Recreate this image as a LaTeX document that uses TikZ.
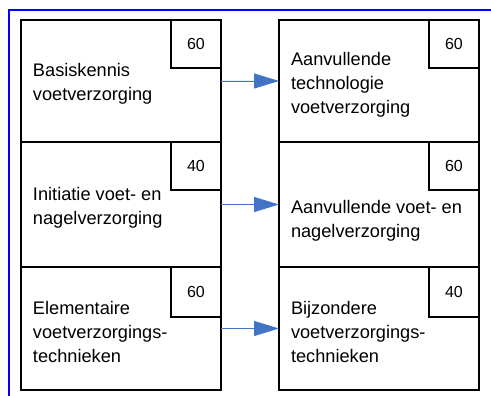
\documentclass[tikz,border=0pt]{standalone}
\usepackage{fontspec}
\setmainfont{Liberation Sans}
\usetikzlibrary{arrows.meta, positioning}

\definecolor{arrowblue}{RGB}{68,114,196}

\begin{document}
\begin{tikzpicture}[
    x=1pt, y=-1pt,
    every node/.style={inner sep=0pt, outer sep=0pt},
    box/.style={rectangle, draw, line width=1.6pt, minimum width=200pt},
    numbox/.style={rectangle, draw, line width=1.6pt, minimum width=50pt, minimum height=48pt, fill=white, font=\fontsize{16}{18}\selectfont},
    txt/.style={align=left, font=\fontsize{18.2}{24}\selectfont, anchor=west},
    arrow/.style={-{Triangle[length=25pt, width=15pt]}, line width=0.8pt, draw=arrowblue, fill=arrowblue}
]
\useasboundingbox (0,0) rectangle (491,396);

% Frame
\draw[blue, line width=1.6pt] (9,396) -- (9,10) -- (491,10);

% Left column
\node[box, minimum height=122pt] (basis) at (121,81) {};
\node[box, minimum height=125pt] (init) at (121,204.5) {};
\node[box, minimum height=123pt] (elem) at (121,328.5) {};

% Right column
\node[box, minimum height=122pt] (aantech) at (379,81) {};
\node[box, minimum height=125pt] (aanvoet) at (379,204.5) {};
\node[box, minimum height=123pt] (bijz) at (379,328.5) {};

% Credits
\node[numbox, anchor=north east] (nbasis) at (basis.north east) {60};
\node[numbox, anchor=north east] (ninit) at (init.north east) {40};
\node[numbox, anchor=north east, minimum height=50pt] (nelem) at (elem.north east) {60};
\node[numbox, anchor=north east] (naantech) at (aantech.north east) {60};
\node[numbox, anchor=north east] (naanvoet) at (aanvoet.north east) {60};
\node[numbox, anchor=north east, minimum height=50pt] (nbijz) at (bijz.north east) {40};

% Texts
\node[txt] (tbasis) at (33,84) {Basiskennis\\voetverzorging};
\node[txt] (tinit) at (33,208) {Initiatie voet- en\\nagelverzorging};
\node[txt] (telem) at (33,331.5) {Elementaire\\voetverzorgings-\\technieken};
\node[txt] (taantech) at (291,84.5) {Aanvullende\\technologie\\voetverzorging};
\node[txt] (taanvoet) at (291,221) {Aanvullende voet- en\\nagelverzorging};
\node[txt] (tbijz) at (291,331.5) {Bijzondere\\voetverzorgings-\\technieken};

% Arrows
\draw[arrow] (basis) -- (aantech);
\draw[arrow] (init) -- (aanvoet);
\draw[arrow] (elem) -- (bijz);

\end{tikzpicture}
\end{document}
